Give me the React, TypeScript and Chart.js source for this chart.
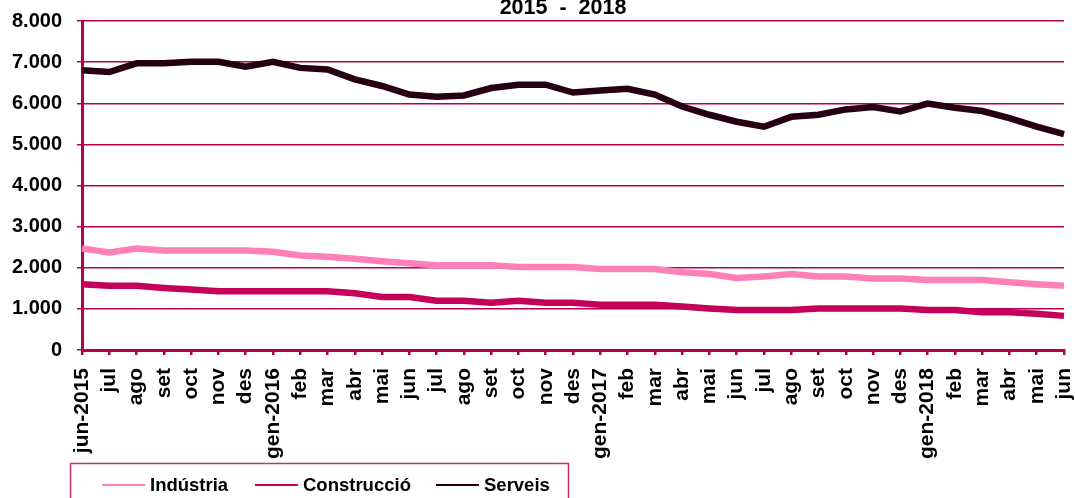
import React, { useEffect, useRef } from "react";
import { Chart, registerables } from "chart.js";

Chart.register(...registerables);

const labels = [
  "jun-2015", "jul", "ago", "set", "oct", "nov", "des",
  "gen-2016", "feb", "mar", "abr", "mai", "jun", "jul", "ago", "set", "oct", "nov", "des",
  "gen-2017", "feb", "mar", "abr", "mai", "jun", "jul", "ago", "set", "oct", "nov", "des",
  "gen-2018", "feb", "mar", "abr", "mai", "jun",
];

const industria = [
  2470, 2370, 2470, 2420, 2420, 2420, 2420,
  2390, 2300, 2270, 2220, 2160, 2110, 2060, 2060, 2060, 2020, 2020, 2020,
  1970, 1970, 1970, 1890, 1850, 1750, 1790, 1850, 1790, 1790, 1740, 1740,
  1700, 1700, 1700, 1650, 1600, 1560,
];

const construccio = [
  1600, 1560, 1560, 1510, 1470, 1430, 1430,
  1430, 1430, 1430, 1380, 1290, 1290, 1200, 1200, 1150, 1200, 1150, 1150,
  1100, 1100, 1100, 1060, 1010, 970, 970, 970, 1010, 1010, 1010, 1010,
  970, 970, 920, 920, 880, 830,
];

const serveis = [
  6800, 6760, 6970, 6970, 7010, 7010, 6890,
  7010, 6860, 6820, 6580, 6420, 6210, 6160, 6190, 6370, 6450, 6450, 6260,
  6310, 6350, 6210, 5920, 5720, 5550, 5430, 5670, 5720, 5850, 5910, 5800,
  5990, 5890, 5810, 5640, 5430, 5250,
];

const seriesNames = ["Indústria", "Construcció", "Serveis"];
const seriesColors = ["#ff80b8", "#c5005a", "#260012"];
const titleText = "2015  -  2018";

const AXIS_COLOR = "#b3004f";
const FONT = "'Liberation Sans', Arial, sans-serif";

function fmt(v: number): string {
  if (v === 0) return "0";
  const s = String(Math.round(v));
  return s.replace(/\B(?=(\d{3})+(?!\d))/g, ".");
}

const extrasPlugin = {
  id: "extras",
  afterDraw(chart: any) {
    const ctx = chart.ctx;
    const area = chart.chartArea;
    ctx.save();
    // title (partially clipped at top)
    ctx.fillStyle = "#000";
    ctx.font = `bold 21.5px ${FONT}`;
    ctx.textAlign = "center";
    ctx.textBaseline = "alphabetic";
    ctx.fillText(titleText, (area.left + area.right) / 2 - 10, 13.5);

    // legend box
    ctx.strokeStyle = "#c8306e";
    ctx.lineWidth = 1.5;
    ctx.strokeRect(70.5, 463.5, 498, 60);

    const items = [
      { lx: 102, tx: 150 },
      { lx: 255, tx: 303 },
      { lx: 436, tx: 484 },
    ];
    ctx.font = `bold 18.5px ${FONT}`;
    ctx.textAlign = "left";
    ctx.textBaseline = "middle";
    items.forEach((it, i) => {
      ctx.strokeStyle = seriesColors[i];
      ctx.lineWidth = 2;
      ctx.beginPath();
      ctx.moveTo(it.lx, 485);
      ctx.lineTo(it.lx + 43, 485);
      ctx.stroke();
      ctx.fillStyle = "#000";
      ctx.fillText(seriesNames[i], it.tx, 486);
    });
    ctx.restore();
  },
};

export default function App() {
  const ref = useRef<HTMLCanvasElement | null>(null);

  useEffect(() => {
    if (!ref.current) return;
    const data = [industria, construccio, serveis];
    const chart = new Chart(ref.current, {
      type: "line",
      data: {
        labels,
        datasets: seriesNames.map((name, i) => ({
          label: name,
          data: data[i],
          borderColor: seriesColors[i],
          backgroundColor: seriesColors[i],
          borderWidth: 6.5,
          pointRadius: 0,
          tension: 0,
          fill: false,
        })),
      },
      options: {
        responsive: false,
        maintainAspectRatio: false,
        animation: false,
        layout: { padding: { left: 0, right: 11, top: 21, bottom: 0 } },
        plugins: {
          legend: { display: false },
          title: { display: false },
          tooltip: { enabled: false },
        },
        scales: {
          x: {
            offset: false,
            afterFit(scale: any) {
              scale.height = 148;
              scale.paddingLeft = 0;
              scale.paddingRight = 0;
            },
            grid: {
              display: true,
              drawOnChartArea: false,
              drawTicks: true,
              tickLength: 5,
              color: AXIS_COLOR,
              lineWidth: 2.5,
            },
            border: { display: true, color: AXIS_COLOR, width: 3 },
            ticks: {
              autoSkip: false,
              maxRotation: 90,
              minRotation: 90,
              padding: 13,
              color: "#000",
              font: { family: FONT, size: 21, weight: "bold" },
            },
          },
          y: {
            min: 0,
            max: 8000,
            afterFit(scale: any) {
              scale.width = 82;
              scale.paddingTop = 0;
              scale.paddingBottom = 0;
            },
            grid: {
              color: AXIS_COLOR,
              lineWidth: 1.5,
              tickLength: 5,
              drawTicks: true,
            },
            border: { display: true, color: AXIS_COLOR, width: 3 },
            ticks: {
              stepSize: 1000,
              padding: 15,
              color: "#000",
              font: { family: FONT, size: 20, weight: "bold" },
              callback: (v: any) => fmt(Number(v)),
            },
          },
        },
      },
      plugins: [extrasPlugin],
    });
    return () => chart.destroy();
  }, []);

  return (
    <div style={{ position: "fixed", left: 0, top: 0, width: 1075, height: 498, background: "#fff" }}>
      <canvas ref={ref} width={1075} height={498} style={{ display: "block" }} />
    </div>
  );
}
